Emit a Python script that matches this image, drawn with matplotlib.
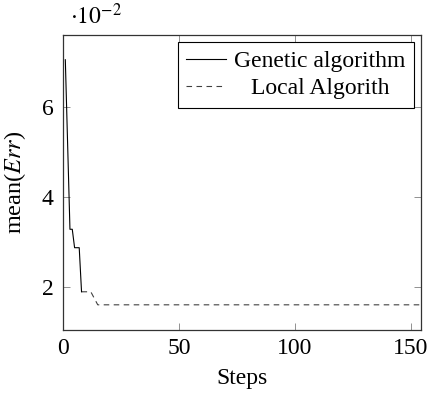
import matplotlib
matplotlib.use("Agg")
import matplotlib.pyplot as plt

genetic_steps = [1, 3, 4, 5, 7, 8]
genetic_vals = [7.05, 3.28, 3.28, 2.87, 2.87, 1.89]
local_steps = [8, 12, 15, 155]
local_vals = [1.89, 1.89, 1.60, 1.60]
xticks = [0, 50, 100, 150]
yticks = [2, 4, 6]

plt.rcParams['font.family'] = ['Liberation Serif', 'DejaVu Serif']
plt.rcParams['mathtext.fontset'] = 'stix'
FS = 17

fig = plt.figure(figsize=(4.28, 3.94), dpi=100)
ax = fig.add_axes([63/428, 64/394, 358/428, 295/394])

ax.plot(genetic_steps, genetic_vals, color='black', lw=0.8, label='Genetic algorithm')
ax.plot(local_steps, local_vals, color='black', lw=0.8, ls=(0, (5, 4)), label='Local Algorith', alpha=0.75)

ax.set_xlim(0, 154.5)
ax.set_ylim(1.04, 7.6)
ax.set_xticks(xticks)
ax.set_yticks(yticks)
ax.tick_params(direction='in', top=True, right=True, length=5, width=0.6,
               color='#808080', labelsize=FS)
ax.tick_params(axis='y', pad=7)
ax.tick_params(axis='x', pad=6)
for s in ax.spines.values():
    s.set_color('#333333')
    s.set_linewidth(0.9)

ax.set_xlabel('Steps', fontsize=FS, labelpad=6)
ax.set_ylabel(r'mean($Err$)', fontsize=FS + 0.5)
ax.yaxis.set_label_coords(-0.098, 0.5)

fig.text(70/428, 1 - 24/394, r'$\cdot 10^{-2}$', fontsize=FS, va='baseline', ha='left')

leg = ax.legend(loc='upper right', fontsize=FS, frameon=True, fancybox=False,
                edgecolor='black', framealpha=1, borderaxespad=0.3,
                handlelength=1.7, handletextpad=0.35, borderpad=0.35, labelspacing=0.25)
leg.get_frame().set_linewidth(0.8)

# center the shorter label like the reference
fig.canvas.draw()
r = fig.canvas.get_renderer()
texts = leg.get_texts()
widths = [t.get_window_extent(r).width for t in texts]
wmax = max(widths)
for t, w in zip(texts, widths):
    t.set_x((wmax - w) / 2)

fig.savefig('out.png', dpi=100)
